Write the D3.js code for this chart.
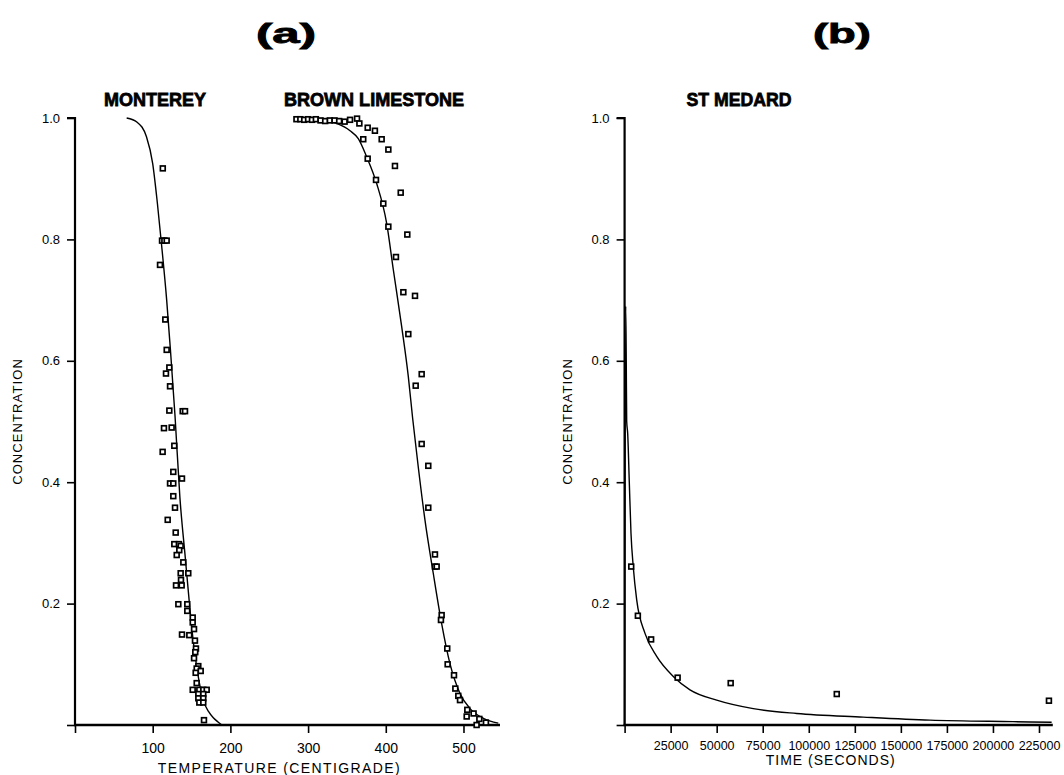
<!DOCTYPE html>
<html>
<head>
<meta charset="utf-8">
<script src="https://cdn.jsdelivr.net/npm/d3@7"></script>
<style>
  html, body { margin: 0; padding: 0; background: #fff; }
  svg { display: block; }
  text { font-family: "Liberation Sans", Arial, Helvetica, sans-serif; fill: #000; }
</style>
</head>
<body>
<svg id="chart" width="1064" height="775"></svg>
<script>
// ---------- DATA ----------
const yTicks = [0.2, 0.4, 0.6, 0.8, 1.0];
const tempTicks = [100, 200, 300, 400, 500];
const timeTicks = [25000, 50000, 75000, 100000, 125000, 150000, 175000, 200000, 225000];

// Monterey observed [temperature, concentration]
const montereyObs = [
  [113,0.917],[112,0.798],[115,0.798],[118,0.798],[109.4,0.758],[116.2,0.668],[118,0.618],
  [121.4,0.589],[117.1,0.579],[122.3,0.558],[121.4,0.518],[138.6,0.517],[141.6,0.517],
  [114.5,0.489],[124.4,0.490],[127.8,0.460],[112.8,0.450],[126.5,0.417],[137.7,0.406],
  [122.3,0.398],[126.5,0.398],[126.5,0.377],[128.7,0.358],[119.3,0.338],[129.6,0.317],
  [127.8,0.298],[133.8,0.298],[136,0.295],[134.2,0.288],[130.9,0.280],[139.4,0.268],
  [136,0.250],[145.8,0.250],[136.4,0.239],[130,0.230],[137.3,0.230],[133,0.199],[144.5,0.199],
  [144.5,0.188],[151.5,0.177],[151.5,0.169],[153.2,0.158],[137.7,0.149],[147.1,0.148],
  [154.4,0.139],[155.7,0.126],[154.8,0.120],[153.2,0.110],[158.7,0.097],[156.6,0.093],
  [161.8,0.089],[155.3,0.086],[156.6,0.069],[151.5,0.058],[160,0.058],[165.1,0.058],[169.5,0.058],
  [158.7,0.051],[165.1,0.051],[158.7,0.044],[165.1,0.044],[160,0.037],[165.1,0.037],[166,0.008]
];
// Monterey fitted curve
const montereyFit = [
  [66.5,1.0],[80,0.993],[92,0.969],[100,0.925],[106,0.86],[111.5,0.79],[118,0.70],[123,0.615],
  [128.7,0.51],[135,0.375],[142,0.275],[148,0.19],[152,0.14],[156.6,0.096],[160,0.07],
  [165,0.041],[172,0.022],[178,0.012],[184,0.005],[189,0.0]
];
// Brown Limestone observed
const brownObs = [
  [285,0.998],[290,0.998],[295,0.997],[300,0.998],[305,0.997],[310,0.998],[316,0.996],
  [322,0.995],[328,0.996],[334,0.996],[340,0.995],[347,0.994],[354,0.997],[363,0.999],[366,0.991],
  [376.7,0.984],[386,0.979],[371,0.965],[394.7,0.965],[403.3,0.948],[376.7,0.933],[411.8,0.921],
  [387.4,0.898],[419.2,0.877],[396.8,0.859],[403.3,0.821],[427.7,0.808],[413.1,0.771],
  [422.6,0.713],[437.6,0.707],[429,0.644],[446.2,0.578],[438.5,0.559],
  [446.2,0.463],[454.7,0.427],[454.7,0.358],[463.3,0.281],[463.3,0.261],[465.5,0.261],
  [471.9,0.181],[471,0.173],[479.1,0.126],[479.6,0.100],[487.8,0.082],[489.5,0.060],
  [493.3,0.048],[495.5,0.041],[504.9,0.025],[504.1,0.014],[513,0.019],[520.4,0.010],
  [516.9,0.0],[528.9,0.004]
];
// Brown Limestone fitted curve
const brownFit = [
  [285,0.999],[315,0.997],[336.8,0.991],[354,0.979],[364.6,0.966],[375.4,0.936],[388.3,0.892],
  [401.2,0.826],[409.7,0.750],[420.5,0.656],[429,0.574],[434.6,0.505],[441.8,0.425],[450.4,0.338],
  [461.1,0.25],[471.9,0.167],[482.6,0.101],[495.5,0.052],[508.4,0.027],[525.5,0.011],[544.8,0.003]
];
// St Medard observed [time (s), concentration]
const medardObs = [
  [3600,0.261],[7200,0.180],[14400,0.141],[28800,0.078],[57600,0.069],[115200,0.051],[230400,0.040]
];
// St Medard fitted curve
const medardFit = [
  [0,0.0],[600,0.69],[900,0.60],[1140,0.50],[1680,0.48],[2550,0.40],[3470,0.316],[4720,0.26],
  [6570,0.206],[11080,0.151],[17430,0.113],[26440,0.080],[35500,0.058],[50000,0.041],
  [69870,0.027],[93430,0.019],[129590,0.013],[165800,0.008],[210860,0.0055],[231870,0.0045]
];

// ---------- LAYOUT ----------
const svg = d3.select("#chart");
const yTop = 118, yBot = 725;

const yL = d3.scaleLinear().domain([0, 1]).range([yBot, yTop]);
const xL = d3.scaleLinear().domain([0, 547]).range([75, 500]);
const yR = d3.scaleLinear().domain([0, 1]).range([yBot, yTop]);
const xR = d3.scaleLinear().domain([0, 232500]).range([624.6, 1052.8]);

function drawPanel(x, y, xTicks, xFontSize, xLabelDy, xTitle, xTitleY, xTitleSpacing, yTitleX) {
  const g = svg.append("g");
  // y axis
  const yAxis = d3.axisLeft(y).tickValues([0].concat(yTicks)).tickSize(8).tickPadding(7)
    .tickFormat(d => d === 0 ? "" : d3.format(".1f")(d));
  const ya = g.append("g").attr("transform", `translate(${x.range()[0]},0)`).call(yAxis);
  ya.select(".domain").attr("d", `M0,${yBot + 1}V${yTop}H-8`).attr("stroke", "#000").attr("stroke-width", 2.2).attr("fill", "none");
  ya.selectAll(".tick line").attr("stroke", "#000").attr("stroke-width", 1.6);
  ya.selectAll(".tick text").style("font-size", "13px").attr("fill", "#000");
  // x axis
  const xAxis = d3.axisBottom(x).tickValues([0].concat(xTicks)).tickSize(8).tickPadding(xLabelDy)
    .tickFormat(d => d === 0 ? "" : d);
  const xa = g.append("g").attr("transform", `translate(0,${yBot})`).call(xAxis);
  xa.select(".domain").attr("d", `M${x.range()[0] - 1},0H${x.range()[1]}`).attr("stroke", "#000").attr("stroke-width", 2.4).attr("fill", "none");
  xa.selectAll(".tick line").attr("stroke", "#000").attr("stroke-width", 1.6);
  xa.selectAll(".tick text").style("font-size", xFontSize + "px").attr("fill", "#000");
  // axis titles
  g.append("text").attr("x", (x.range()[0] + x.range()[1]) / 2 - 8).attr("y", xTitleY)
    .attr("text-anchor", "middle").style("font-size", "14px").style("letter-spacing", xTitleSpacing + "px").text(xTitle);
  g.append("text").attr("transform", `translate(${yTitleX},${(yTop + yBot) / 2}) rotate(-90)`)
    .attr("text-anchor", "middle").style("font-size", "13px").style("letter-spacing", "1.1px").text("CONCENTRATION");
  return g;
}

const gL = drawPanel(xL, yL, tempTicks, 14, 10, "TEMPERATURE (CENTIGRADE)", 773, 1.4, 22);
const gR = drawPanel(xR, yR, timeTicks, 12.5, 8, "TIME (SECONDS)", 765, 1.0, 572);

// curves
const lineL = d3.line().x(d => xL(d[0])).y(d => yL(d[1])).curve(d3.curveMonotoneX);
const lineR = d3.line().x(d => xR(d[0])).y(d => yR(d[1])).curve(d3.curveMonotoneX);

function drawCurve(g, line, data) {
  g.append("path").datum(data).attr("d", line).attr("fill", "none").attr("stroke", "#000").attr("stroke-width", 1.4);
}
function drawPts(g, x, y, data) {
  g.selectAll(null).data(data).enter().append("rect")
    .attr("x", d => x(d[0]) - 2.4).attr("y", d => y(d[1]) - 2.4)
    .attr("width", 4.8).attr("height", 4.8)
    .attr("fill", "#fff").attr("stroke", "#000").attr("stroke-width", 1.7);
}
drawCurve(gL, lineL, montereyFit);
drawCurve(gL, lineL, brownFit);
drawCurve(gR, lineR, medardFit);
drawPts(gL, xL, yL, montereyObs);
drawPts(gL, xL, yL, brownObs);
drawPts(gR, xR, yR, medardObs);

// titles
function heavy(x, y, size, len, txt) {
  svg.append("text").attr("x", x).attr("y", y).attr("text-anchor", "middle")
    .style("font-size", size + "px").style("font-weight", "bold")
    .attr("stroke", "#000").attr("stroke-width", 0.8)
    .attr("textLength", len).attr("lengthAdjust", "spacingAndGlyphs").text(txt);
}
heavy(286, 43, 27, 60, "(a)");
heavy(842, 43, 27, 58, "(b)");
heavy(155, 106, 19, 102, "MONTEREY");
heavy(374, 106, 19, 180, "BROWN LIMESTONE");
heavy(739, 106, 19, 105, "ST MEDARD");
</script>
</body>
</html>
